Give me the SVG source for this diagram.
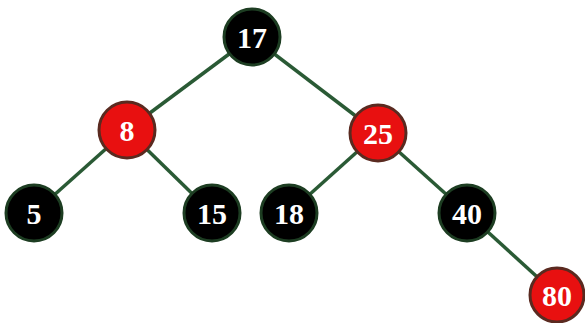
<svg xmlns="http://www.w3.org/2000/svg" width="585" height="323" viewBox="0 0 585 323">
<style>
.e{stroke:#2a5a35;stroke-width:3.5;fill:none}
.b{fill:#000;stroke:#1d3d22;stroke-width:3}
.r{fill:#e81010;stroke:#5a2a20;stroke-width:3}
.t{fill:#fff;font-family:"Liberation Serif",serif;font-weight:bold;font-size:30px;text-anchor:middle;dominant-baseline:central}
</style>
<rect width="585" height="323" fill="#fff"/>
<g id="edges">
<line class="e" x1="252" y1="37" x2="127" y2="130"/>
<line class="e" x1="252" y1="37" x2="378" y2="133"/>
<line class="e" x1="127" y1="130" x2="34" y2="213"/>
<line class="e" x1="127" y1="130" x2="212" y2="213"/>
<line class="e" x1="378" y1="133" x2="289" y2="213"/>
<line class="e" x1="378" y1="133" x2="467" y2="213"/>
<line class="e" x1="467" y1="213" x2="557" y2="295"/>
</g>
<g id="n17"><circle class="b" cx="252" cy="37" r="28"/><text class="t" x="252" y="37">17</text></g>
<g id="n8"><circle class="r" cx="127" cy="130" r="28"/><text class="t" x="127" y="130">8</text></g>
<g id="n25"><circle class="r" cx="378" cy="133" r="28"/><text class="t" x="378" y="133">25</text></g>
<g id="n5"><circle class="b" cx="34" cy="213" r="28"/><text class="t" x="34" y="213">5</text></g>
<g id="n15"><circle class="b" cx="212" cy="213" r="28"/><text class="t" x="212" y="213">15</text></g>
<g id="n18"><circle class="b" cx="289" cy="213" r="28"/><text class="t" x="289" y="213">18</text></g>
<g id="n40"><circle class="b" cx="467" cy="213" r="28"/><text class="t" x="467" y="213">40</text></g>
<g id="n80"><circle class="r" cx="557" cy="295" r="27"/><text class="t" x="557" y="295">80</text></g>
</svg>
